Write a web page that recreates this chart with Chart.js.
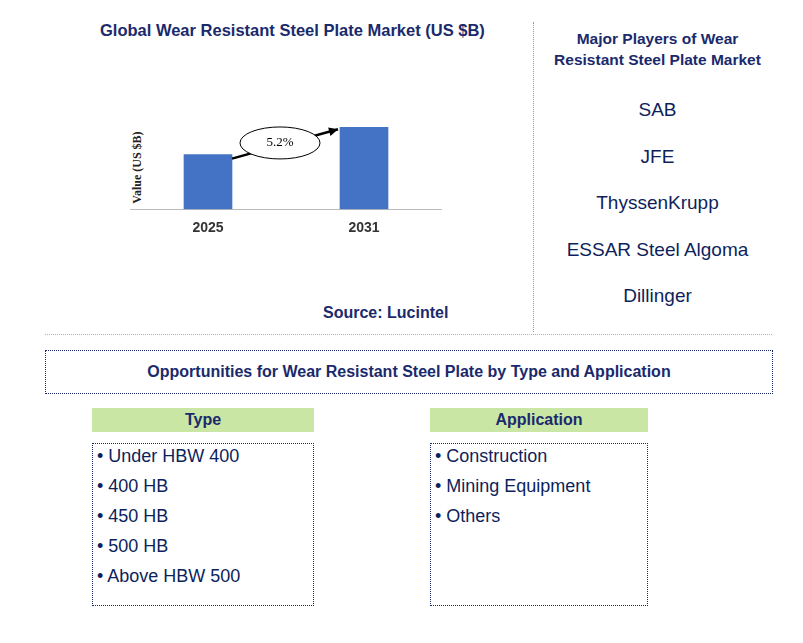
<!DOCTYPE html><html><head><meta charset="utf-8">
<script src="https://cdn.jsdelivr.net/npm/chart.js@4"></script>
<style>
body{margin:0;width:803px;height:643px;background:#fff;font-family:Arial,"Liberation Sans",sans-serif;position:relative;overflow:hidden}
.a{position:absolute}
.t{color:#1a2a6c;font-weight:bold}
.box{position:absolute;border:1px dotted #1a2a6c;box-sizing:border-box}
.list div{font-size:18px;color:#0d1f5c;height:30px}
</style></head><body>
<div class="a t" style="left:100px;top:21px;font-size:16.5px">Global Wear Resistant Steel Plate Market (US $B)</div>
<div class="a" style="left:62px;top:160px;transform:rotate(-90deg);transform-origin:center;width:150px;text-align:center;font-size:12px;font-weight:bold;color:#222;font-family:'Liberation Serif',serif">Value (US $B)</div>
<div class="a" style="left:130px;top:100px;width:312px;height:140px"><canvas id="c"></canvas></div>
<div class="a t" style="left:323px;top:304px;font-size:16px">Source: Lucintel</div>
<div class="a" style="left:533px;top:22px;height:310px;border-left:1px dotted #999"></div>
<div class="a t" style="left:540px;top:28px;width:235px;text-align:center;font-size:15.5px;line-height:21px">Major Players of Wear<br>Resistant Steel Plate Market</div>
<div class="a" style="left:540px;top:87px;width:235px;text-align:center;font-size:19px;color:#0d1f5c;line-height:46.5px" id="pl"></div>
<div class="a" style="left:45px;top:334px;width:727px;border-top:1px dotted #e0b040"></div>
<div class="box t" style="left:45px;top:350px;width:728px;height:44px;font-size:16px;text-align:center;line-height:42px">Opportunities for Wear Resistant Steel Plate by Type and Application</div>
<div class="a t" style="left:92px;top:408px;width:222px;height:24px;background:#c9e6a4;text-align:center;line-height:24px;font-size:16px">Type</div>
<div class="a t" style="left:430px;top:408px;width:218px;height:24px;background:#c9e6a4;text-align:center;line-height:24px;font-size:16px">Application</div>
<div class="box list" id="tl" style="left:92px;top:443px;width:222px;height:163px;padding:2px 0 0 4px"></div>
<div class="box list" id="al" style="left:430px;top:443px;width:218px;height:163px;padding:2px 0 0 4px"></div>
<script>
const categories=["2025","2031"];
const values=[2.0,3.0];
const cagrLabel="5.2%";
const players=["SAB","JFE","ThyssenKrupp","ESSAR Steel Algoma","Dillinger"];
const types=["Under HBW 400","400 HB","450 HB","500 HB","Above HBW 500"];
const apps=["Construction","Mining Equipment","Others"];
document.getElementById('pl').innerHTML=players.map(p=>`<div>${p}</div>`).join('');
document.getElementById('tl').innerHTML=types.map(p=>`<div>• ${p}</div>`).join('');
document.getElementById('al').innerHTML=apps.map(p=>`<div>• ${p}</div>`).join('');
const arrow={id:'arrow',afterDatasetsDraw(ch){
 const m=ch.getDatasetMeta(0).data,ctx=ch.ctx;
 const x1=m[0].x+m[0].width/2,y1=m[0].y+4,x2=m[1].x-m[1].width/2-2,y2=m[1].y+2;
 ctx.save();ctx.strokeStyle='#000';ctx.lineWidth=2.5;
 ctx.beginPath();ctx.moveTo(x1,y1);ctx.lineTo(x2,y2);ctx.stroke();
 const a=Math.atan2(y2-y1,x2-x1);ctx.fillStyle='#000';ctx.beginPath();
 ctx.moveTo(x2,y2);ctx.lineTo(x2-10*Math.cos(a-0.45),y2-10*Math.sin(a-0.45));ctx.lineTo(x2-10*Math.cos(a+0.45),y2-10*Math.sin(a+0.45));ctx.fill();
 const cx=(x1+x2)/2-5,cy=(y1+y2)/2-1;
 ctx.fillStyle='#fff';ctx.lineWidth=1;ctx.beginPath();ctx.ellipse(cx,cy,40,16,0,0,Math.PI*2);ctx.fill();ctx.stroke();
 ctx.fillStyle='#000';ctx.font='13px "Liberation Serif",serif';ctx.textAlign='center';ctx.textBaseline='middle';ctx.fillText(cagrLabel,cx,cy);
 ctx.restore();}};
new Chart(document.getElementById('c'),{type:'bar',data:{labels:categories,datasets:[{data:values,backgroundColor:'#4472c4',barThickness:48}]},
options:{responsive:true,maintainAspectRatio:false,animation:false,plugins:{legend:{display:false},tooltip:{enabled:false}},
scales:{y:{display:false,min:0,max:4},x:{grid:{display:false},border:{color:'#bbb'},ticks:{color:'#333',font:{size:14,weight:'bold',family:'Arial'}}}}},plugins:[arrow]});
</script></body></html>
